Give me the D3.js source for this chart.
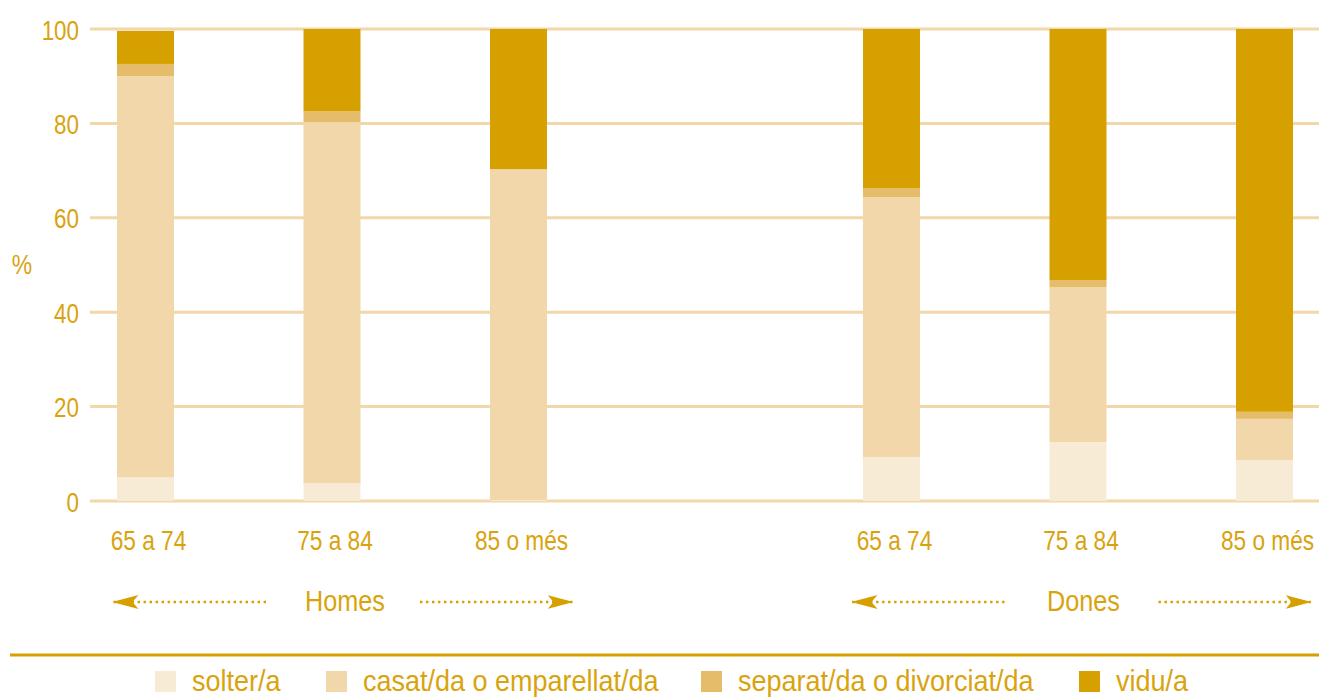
<!DOCTYPE html>
<html>
<head>
<meta charset="utf-8">
<script src="https://cdn.jsdelivr.net/npm/d3@7"></script>
<style>
  body { margin: 0; background: #fff; }
  text { font-family: "Liberation Sans", Arial, sans-serif; fill: #D9A30E; }
</style>
</head>
<body>
<svg id="chart" width="1319" height="698"></svg>
<script>
// age groups and sexes
var sexes = ["Homes", "Dones"];
var ages = ["65 a 74", "75 a 84", "85 o més"];
var statuses = ["solter/a", "casat/da o emparellat/da", "separat/da o divorciat/da", "vidu/a"];
var colors = ["#F7EBD6", "#F2D7AA", "#E5BC6A", "#D6A000"];

// % per status, order: Homes 65-74, 75-84, 85+, Dones 65-74, 75-84, 85+
var solter  = [5.0, 3.8, 0.2, 9.3, 12.5, 8.7];
var casat   = [85.0, 76.5, 70.1, 55.1, 32.8, 8.7];
var separat = [2.6, 2.3, 0.0, 1.9, 1.5, 1.5];
var vidu    = [7.0, 17.4, 29.7, 33.7, 53.2, 81.1];

var yTicks = [0, 20, 40, 60, 80, 100];

var svg = d3.select("#chart");
var W = 1319;

// the original uses a condensed face; squeeze text horizontally
function label(g, x, y, txt, size, sx, anchor) {
  return g.append("text")
    .attr("transform", "translate(" + x + "," + y + ") scale(" + sx + ",1)")
    .attr("text-anchor", anchor || "middle")
    .style("font-size", size + "px")
    .text(txt);
}

// slots: 3 Homes, an empty gap, 3 Dones
var slots = [];
sexes.forEach(function(s, i) {
  ages.forEach(function(a) { slots.push(s + "|" + a); });
  if (i == 0) slots.push("gap");
});

var x = d3.scalePoint().domain(slots).range([145.5, 1264.5]);
var y = d3.scaleLinear().domain([0, 100]).range([501, 29]);
var barW = 57;

var rows = [];
var k = 0;
sexes.forEach(function(s) {
  ages.forEach(function(a) {
    rows.push({key: s + "|" + a, sex: s, age: a,
      "solter/a": solter[k], "casat/da o emparellat/da": casat[k],
      "separat/da o divorciat/da": separat[k], "vidu/a": vidu[k]});
    k++;
  });
});

// grid lines
svg.append("g").selectAll("line")
  .data(yTicks).enter().append("line")
  .attr("x1", 90).attr("x2", W)
  .attr("y1", d => y(d)).attr("y2", d => y(d))
  .style("stroke", "#F2D7AA")
  .style("stroke-width", 3);

// y axis labels
var yAxis = svg.append("g")
  .attr("transform", "translate(79,0)")
  .call(d3.axisLeft(y).tickValues(yTicks).tickSize(0).tickPadding(0));
yAxis.select(".domain").remove();
yAxis.selectAll("text")
  .attr("x", null)
  .attr("dy", "0.36em")
  .attr("transform", "scale(0.8,1)")
  .style("font-size", "28px")
  .style("font-family", null)
  .attr("fill", null);

label(svg, 22, 274, "%", 27, 0.85);

// stacked bars
var stack = d3.stack().keys(statuses)(rows);

svg.append("g").selectAll("g")
  .data(stack).enter().append("g")
  .style("fill", (d, i) => colors[i])
  .selectAll("rect")
  .data(d => d).enter().append("rect")
  .attr("x", d => x(d.data.key) - barW / 2)
  .attr("width", barW)
  .attr("y", d => y(d[1]))
  .attr("height", d => y(d[0]) - y(d[1]));

// age labels
var ageG = svg.append("g");
rows.forEach(function(d) {
  label(ageG, x(d.key) + 3, 550, d.age, 28, 0.81);
});

// sex labels with dotted arrows
var defs = svg.append("defs");
defs.append("marker")
  .attr("id", "head")
  .attr("viewBox", "0 -8 26 16")
  .attr("refX", 26).attr("refY", 0)
  .attr("markerWidth", 26).attr("markerHeight", 16)
  .attr("markerUnits", "userSpaceOnUse")
  .attr("orient", "auto")
  .append("path")
  .attr("d", "M0,-7L26,0L0,7L6,0Z")
  .style("fill", "#D6A000");

var arrowPad = {Homes: [33, 55], Dones: [40, 47]};
var sexG = svg.append("g");
sexes.forEach(function(s) {
  var x0 = x(s + "|" + ages[0]) - arrowPad[s][0];
  var x1 = x(s + "|" + ages[2]) + arrowPad[s][1];
  var cx = (x0 + x1) / 2;
  var ay = 602;
  label(sexG, cx + 2, 611, s, 29, 0.87);
  [[cx - 77, x0], [cx + 77, x1]].forEach(function(p) {
    sexG.append("line")
      .attr("x1", p[0]).attr("y1", ay)
      .attr("x2", p[1]).attr("y2", ay)
      .style("stroke", "#D6A000")
      .style("stroke-width", 2.4)
      .style("stroke-dasharray", "2.4,3.6")
      .attr("marker-end", "url(#head)");
  });
});

// legend
svg.append("line")
  .attr("x1", 10).attr("x2", W)
  .attr("y1", 655).attr("y2", 655)
  .style("stroke", "#D6A000")
  .style("stroke-width", 3);

var legX = [155, 326, 701, 1079];
var leg = svg.append("g").selectAll("g")
  .data(statuses).enter().append("g")
  .attr("transform", (d, i) => "translate(" + legX[i] + ",671)");
leg.append("rect")
  .attr("width", 21).attr("height", 21)
  .style("fill", (d, i) => colors[i]);
leg.each(function(d) {
  label(d3.select(this), 37, 20, d, 30, 0.9, "start");
});
</script>
</body>
</html>
